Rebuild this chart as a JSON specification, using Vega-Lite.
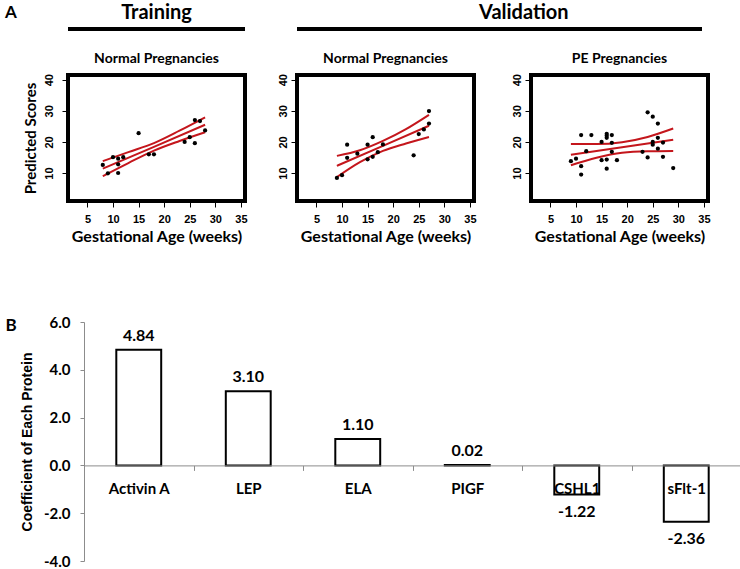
{
  "$schema": "https://vega.github.io/schema/vega-lite/v6.json",
  "padding": {"left": 5, "top": 3, "right": 0, "bottom": 0},
  "background": "white",
  "config": {"view": {"stroke": null}, "font": "Lato", "title": {"color": "black"},
             "locale": {"number": {"decimal": ".", "thousands": ",", "grouping": [3], "currency": ["$", ""], "minus": "-"}}},
  "spacing": 69,
  "vconcat": [
    {
      "spacing": 4,
      "hconcat": [
        {
          "width": 10, "height": 25,
          "data": {"values": [{}]},
          "mark": {"type": "text", "text": "A", "fontSize": 17, "fontWeight": "bold", "font": "Lato", "color": "black"},
          "encoding": {"y": {"datum": 0.64, "type": "quantitative", "scale": {"domain": [0, 1]}, "axis": null}}
        },
        {
          "spacing": 25,
          "hconcat": [
            {
              "spacing": 18,
              "vconcat": [
                {
                  "width": 177, "height": 25,
                  "data": {"values": [{}]},
                  "layer": [
                    {"mark": {"type": "rule", "strokeWidth": 4, "color": "black"},
                     "encoding": {"y": {"datum": 0, "type": "quantitative", "scale": {"domain": [0, 1]}, "axis": null}}},
                    {"mark": {"type": "text", "text": "Training", "fontSize": 20, "fontWeight": "bold", "font": "Lato", "color": "black"},
                     "encoding": {"x": {"datum": 0.5, "type": "quantitative", "scale": {"domain": [0, 1]}, "axis": null},
                                  "y": {"datum": 0.64, "type": "quantitative"}}}
                  ]
                },
                {
                  "width": 177, "height": 126,
                  "view": {"stroke": "black", "strokeWidth": 4},
                  "title": {"text": "Normal Pregnancies", "fontSize": 14, "fontWeight": "bold", "font": "Lato", "offset": 8, "color": "black"},
                  "encoding": {
                    "x": {"field": "ga", "type": "quantitative", "scale": {"domain": [1.2, 35.8], "nice": false, "zero": false},
                          "axis": {"values": [5, 10, 15, 20, 25, 30, 35], "title": "Gestational Age (weeks)", "domain": false, "grid": false, "tickColor": "black", "tickSize": 6, "labelFont": "Liberation Sans", "labelFontWeight": "bold", "labelFontSize": 11, "labelColor": "black", "labelPadding": 6, "titleFont": "Lato", "titleFontSize": 16, "titleFontWeight": "bold", "titleColor": "black", "titlePadding": 4}},
                    "y": {"field": "score", "type": "quantitative", "scale": {"domain": [1, 41.5], "nice": false, "zero": false},
                          "axis": {"values": [10, 20, 30, 40], "title": "Predicted Scores", "domain": false, "grid": false, "tickColor": "black", "tickSize": 6, "labelAngle": -90, "labelFont": "Liberation Sans", "labelFontWeight": "bold", "labelFontSize": 11, "labelColor": "black", "labelPadding": 8, "titleFont": "Lato", "titleFontSize": 15, "titleFontWeight": "bold", "titleColor": "black", "titlePadding": 5}}
                  },
                  "layer": [
                    {"data": {"values": [
                      {"curve": "fit", "ga": 8, "score": 11.4}, {"curve": "fit", "ga": 18, "score": 18.4}, {"curve": "fit", "ga": 28, "score": 25.5},
                      {"curve": "upper", "ga": 8, "score": 13.8}, {"curve": "upper", "ga": 13, "score": 16.7}, {"curve": "upper", "ga": 18, "score": 19.6}, {"curve": "upper", "ga": 23, "score": 23.6}, {"curve": "upper", "ga": 28, "score": 27.9},
                      {"curve": "lower", "ga": 8, "score": 9.0}, {"curve": "lower", "ga": 13, "score": 13.2}, {"curve": "lower", "ga": 18, "score": 17.2}, {"curve": "lower", "ga": 23, "score": 20.3}, {"curve": "lower", "ga": 28, "score": 23.1}
                    ]},
                     "mark": {"type": "line", "color": "#c4161c", "strokeWidth": 2, "interpolate": "monotone"},
                     "encoding": {"detail": {"field": "curve"}}},
                    {"data": {"values": [
                      {"ga": 8, "score": 12.6}, {"ga": 9, "score": 9.9}, {"ga": 10, "score": 15.1}, {"ga": 11, "score": 14.6}, {"ga": 11, "score": 12.8}, {"ga": 11, "score": 10.0}, {"ga": 12, "score": 15.1}, {"ga": 15, "score": 22.8}, {"ga": 17, "score": 16.0}, {"ga": 18, "score": 16.0}, {"ga": 24, "score": 20.0}, {"ga": 25, "score": 21.5}, {"ga": 26, "score": 19.6}, {"ga": 26, "score": 27.0}, {"ga": 27, "score": 26.7}, {"ga": 28, "score": 23.7}
                    ]},
                     "mark": {"type": "circle", "color": "black", "opacity": 1, "size": 18}},
                    {"data": {"values": [{}]},
                     "mark": {"type": "text", "text": "R²=0.76", "align": "left", "baseline": "middle", "fontSize": 17, "fontWeight": "bold", "font": "Lato", "color": "black"},
                     "encoding": {"x": {"datum": 3.5, "type": "quantitative"}, "y": {"datum": 35.1, "type": "quantitative"}}}
                  ]
                }
              ]
            },
            {
              "spacing": 18,
              "vconcat": [
                {
                  "width": 405, "height": 25,
                  "data": {"values": [{}]},
                  "layer": [
                    {"mark": {"type": "rule", "strokeWidth": 4, "color": "black"},
                     "encoding": {"y": {"datum": 0, "type": "quantitative", "scale": {"domain": [0, 1]}, "axis": null}}},
                    {"mark": {"type": "text", "text": "Validation", "fontSize": 20, "fontWeight": "bold", "font": "Lato", "color": "black"},
                     "encoding": {"x": {"datum": 0.56, "type": "quantitative", "scale": {"domain": [0, 1]}, "axis": null},
                                  "y": {"datum": 0.64, "type": "quantitative"}}}
                  ]
                },
                {
                  "spacing": 30,
                  "hconcat": [
                    {
                      "width": 177, "height": 126,
                      "view": {"stroke": "black", "strokeWidth": 4},
                      "title": {"text": "Normal Pregnancies", "fontSize": 14, "fontWeight": "bold", "font": "Lato", "offset": 8, "color": "black"},
                      "encoding": {
                        "x": {"field": "ga", "type": "quantitative", "scale": {"domain": [1.2, 35.8], "nice": false, "zero": false},
                              "axis": {"values": [5, 10, 15, 20, 25, 30, 35], "title": "Gestational Age (weeks)", "domain": false, "grid": false, "tickColor": "black", "tickSize": 6, "labelFont": "Liberation Sans", "labelFontWeight": "bold", "labelFontSize": 11, "labelColor": "black", "labelPadding": 6, "titleFont": "Lato", "titleFontSize": 16, "titleFontWeight": "bold", "titleColor": "black", "titlePadding": 4}},
                        "y": {"field": "score", "type": "quantitative", "scale": {"domain": [1, 41.5], "nice": false, "zero": false},
                              "axis": {"values": [10, 20, 30, 40], "title": null, "domain": false, "grid": false, "tickColor": "black", "tickSize": 6, "labelAngle": -90, "labelFont": "Liberation Sans", "labelFontWeight": "bold", "labelFontSize": 11, "labelColor": "black", "labelPadding": 3}}
                      },
                      "layer": [
                        {"data": {"values": [
                          {"curve": "fit", "ga": 9, "score": 12.3}, {"curve": "fit", "ga": 18, "score": 18.7}, {"curve": "fit", "ga": 27, "score": 25.2},
                          {"curve": "upper", "ga": 9, "score": 15.5}, {"curve": "upper", "ga": 13.5, "score": 17.3}, {"curve": "upper", "ga": 18, "score": 20.3}, {"curve": "upper", "ga": 22.5, "score": 24.1}, {"curve": "upper", "ga": 27, "score": 28.7},
                          {"curve": "lower", "ga": 9, "score": 8.7}, {"curve": "lower", "ga": 13.5, "score": 13.5}, {"curve": "lower", "ga": 18, "score": 17.1}, {"curve": "lower", "ga": 22.5, "score": 19.5}, {"curve": "lower", "ga": 27, "score": 21.6}
                        ]},
                         "mark": {"type": "line", "color": "#c4161c", "strokeWidth": 2, "interpolate": "monotone"},
                         "encoding": {"detail": {"field": "curve"}}},
                        {"data": {"values": [
                          {"ga": 9, "score": 8.4}, {"ga": 10, "score": 9.3}, {"ga": 11, "score": 19.1}, {"ga": 11, "score": 14.9}, {"ga": 13, "score": 16.2}, {"ga": 15, "score": 19.1}, {"ga": 15, "score": 14.4}, {"ga": 16, "score": 21.5}, {"ga": 16, "score": 15.2}, {"ga": 17, "score": 16.7}, {"ga": 18, "score": 19.2}, {"ga": 24, "score": 15.7}, {"ga": 25, "score": 22.5}, {"ga": 26, "score": 24.0}, {"ga": 27, "score": 25.9}, {"ga": 27, "score": 29.9}
                        ]},
                         "mark": {"type": "circle", "color": "black", "opacity": 1, "size": 18}},
                        {"data": {"values": [{}]},
                         "mark": {"type": "text", "text": "R²=0.61", "align": "left", "baseline": "middle", "fontSize": 17, "fontWeight": "bold", "font": "Lato", "color": "black"},
                         "encoding": {"x": {"datum": 4.9, "type": "quantitative"}, "y": {"datum": 35.1, "type": "quantitative"}}}
                      ]
                    },
                    {
                      "width": 177, "height": 126,
                      "view": {"stroke": "black", "strokeWidth": 4},
                      "title": {"text": "PE Pregnancies", "fontSize": 14, "fontWeight": "bold", "font": "Lato", "offset": 8, "color": "black"},
                      "encoding": {
                        "x": {"field": "ga", "type": "quantitative", "scale": {"domain": [1.2, 35.8], "nice": false, "zero": false},
                              "axis": {"values": [5, 10, 15, 20, 25, 30, 35], "title": "Gestational Age (weeks)", "domain": false, "grid": false, "tickColor": "black", "tickSize": 6, "labelFont": "Liberation Sans", "labelFontWeight": "bold", "labelFontSize": 11, "labelColor": "black", "labelPadding": 6, "titleFont": "Lato", "titleFontSize": 16, "titleFontWeight": "bold", "titleColor": "black", "titlePadding": 4}},
                        "y": {"field": "score", "type": "quantitative", "scale": {"domain": [1, 41.5], "nice": false, "zero": false},
                              "axis": {"values": [10, 20, 30, 40], "title": null, "domain": false, "grid": false, "tickColor": "black", "tickSize": 6, "labelAngle": -90, "labelFont": "Liberation Sans", "labelFontWeight": "bold", "labelFontSize": 11, "labelColor": "black", "labelPadding": 3}}
                      },
                      "layer": [
                        {"data": {"values": [
                          {"curve": "fit", "ga": 9, "score": 15.9}, {"curve": "fit", "ga": 19, "score": 18.3}, {"curve": "fit", "ga": 29, "score": 20.7},
                          {"curve": "upper", "ga": 9, "score": 19.3}, {"curve": "upper", "ga": 14, "score": 19.3}, {"curve": "upper", "ga": 19, "score": 19.9}, {"curve": "upper", "ga": 24, "score": 21.6}, {"curve": "upper", "ga": 29, "score": 24.3},
                          {"curve": "lower", "ga": 9, "score": 12.5}, {"curve": "lower", "ga": 14, "score": 14.9}, {"curve": "lower", "ga": 19, "score": 16.5}, {"curve": "lower", "ga": 24, "score": 17.0}, {"curve": "lower", "ga": 29, "score": 17.1}
                        ]},
                         "mark": {"type": "line", "color": "#c4161c", "strokeWidth": 2, "interpolate": "monotone"},
                         "encoding": {"detail": {"field": "curve"}}},
                        {"data": {"values": [
                          {"ga": 9, "score": 13.8}, {"ga": 10, "score": 14.6}, {"ga": 11, "score": 22.2}, {"ga": 11, "score": 12.2}, {"ga": 11, "score": 9.5}, {"ga": 12, "score": 17.0}, {"ga": 13, "score": 22.2}, {"ga": 15, "score": 20.0}, {"ga": 15, "score": 14.1}, {"ga": 16, "score": 22.6}, {"ga": 16, "score": 22.0}, {"ga": 16, "score": 21.3}, {"ga": 16, "score": 14.3}, {"ga": 16, "score": 11.4}, {"ga": 17, "score": 22.2}, {"ga": 17, "score": 19.7}, {"ga": 17, "score": 16.8}, {"ga": 18, "score": 14.1}, {"ga": 23, "score": 16.8}, {"ga": 24, "score": 29.5}, {"ga": 24, "score": 15.0}, {"ga": 25, "score": 28.1}, {"ga": 25, "score": 20.0}, {"ga": 25, "score": 19.1}, {"ga": 26, "score": 25.9}, {"ga": 26, "score": 21.3}, {"ga": 26, "score": 17.8}, {"ga": 27, "score": 19.8}, {"ga": 27, "score": 15.2}, {"ga": 29, "score": 11.6}
                        ]},
                         "mark": {"type": "circle", "color": "black", "opacity": 1, "size": 18}},
                        {"data": {"values": [{}]},
                         "mark": {"type": "text", "text": "R²=-0.17", "align": "left", "baseline": "middle", "fontSize": 17, "fontWeight": "bold", "font": "Lato", "color": "black"},
                         "encoding": {"x": {"datum": 6.7, "type": "quantitative"}, "y": {"datum": 35.1, "type": "quantitative"}}}
                      ]
                    }
                  ]
                }
              ]
            }
          ]
        }
      ]
    },
    {
      "spacing": 3,
      "hconcat": [
        {
          "width": 10, "height": 20,
          "data": {"values": [{}]},
          "mark": {"type": "text", "text": "B", "fontSize": 17, "fontWeight": "bold", "font": "Lato", "color": "black"},
          "encoding": {"y": {"datum": 0.8, "type": "quantitative", "scale": {"domain": [0, 1]}, "axis": null}}
        },
        {
          "width": 657, "height": 239,
          "data": {"values": [
            {"protein": "Activin A", "coef": 4.84},
            {"protein": "LEP", "coef": 3.10},
            {"protein": "ELA", "coef": 1.10},
            {"protein": "PIGF", "coef": 0.02},
            {"protein": "CSHL1", "coef": -1.22},
            {"protein": "sFlt-1", "coef": -2.36}
          ]},
          "encoding": {
            "x": {"field": "protein", "type": "nominal", "sort": null, "scale": {"paddingInner": 0, "paddingOuter": 0},
                  "axis": {"title": null, "orient": "bottom", "offset": -95.6, "zindex": 1, "domainColor": "#8c8c8c", "domainWidth": 1, "tickColor": "#8c8c8c", "tickSize": 5, "tickBand": "extent", "labelAngle": 0, "labelFont": "Lato", "labelFontSize": 15, "labelFontWeight": "bold", "labelColor": "black", "labelPadding": 11}},
            "y": {"field": "coef", "type": "quantitative", "scale": {"domain": [-4, 6], "nice": false},
                  "axis": {"values": [-4, -2, 0, 2, 4, 6], "format": ".1f", "grid": false, "title": "Coefficient of Each Protein", "domainColor": "#8c8c8c", "tickColor": "#8c8c8c", "tickSize": 4, "labelFont": "Lato", "labelFontSize": 15, "labelFontWeight": "bold", "labelColor": "black", "labelPadding": 10, "titleFont": "Liberation Sans", "titleFontSize": 14, "titleFontWeight": "bold", "titleColor": "black", "titlePadding": 9}}
          },
          "layer": [
            {"mark": {"type": "bar", "fill": "white", "stroke": "black", "strokeWidth": 2, "width": {"band": 0.41}}},
            {"transform": [{"filter": "datum.coef >= 0"}],
             "mark": {"type": "text", "baseline": "bottom", "dy": -6, "fontSize": 16, "fontWeight": "bold", "font": "Lato", "color": "black"},
             "encoding": {"text": {"field": "coef", "type": "quantitative", "format": ".2f"}}},
            {"transform": [{"filter": "datum.coef < 0"}],
             "mark": {"type": "text", "baseline": "top", "dy": 9, "fontSize": 16, "fontWeight": "bold", "font": "Lato", "color": "black"},
             "encoding": {"text": {"field": "coef", "type": "quantitative", "format": ".2f"}}}
          ]
        }
      ]
    }
  ]
}
